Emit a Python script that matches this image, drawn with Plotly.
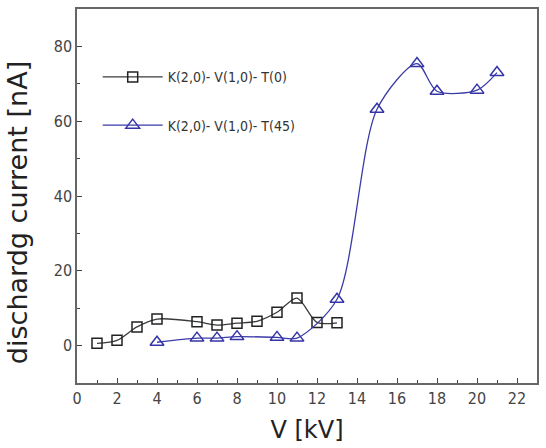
import plotly.graph_objects as go

# Data
x_t0 = [1, 2, 3, 4, 6, 7, 8, 9, 10, 11, 12, 13]
y_t0 = [0.6, 1.4, 5.0, 7.1, 6.4, 5.5, 6.0, 6.5, 8.9, 12.7, 6.2, 6.1]

x_t45 = [4, 6, 7, 8, 10, 11, 13, 15, 17, 18, 20, 21]
y_t45 = [0.9, 2.0, 2.0, 2.4, 2.2, 2.0, 12.4, 63.2, 75.4, 68.0, 68.3, 73.0]

name_t0 = "K(2,0)- V(1,0)- T(0)"
name_t45 = "K(2,0)- V(1,0)- T(45)"
y_title = "dischardg current [nA]"
x_title = "V [kV]"

fig = go.Figure()
fig.add_trace(go.Scatter(
    x=x_t0, y=y_t0, name=name_t0, legendgroup="a",
    mode="lines+markers",
    line=dict(color="#3a3a3a", width=1.3, shape="spline", smoothing=0.8),
    marker=dict(symbol="square-open", size=10, color="#222222", line=dict(width=1.5)),
))
fig.add_trace(go.Scatter(
    x=x_t45, y=y_t45, name=name_t45, legendgroup="b",
    mode="lines+markers",
    line=dict(color="#3b3ba8", width=1.3, shape="spline", smoothing=0.8),
    marker=dict(symbol="triangle-up-open", size=12, color="#3535a8", line=dict(width=1.5)),
))

narrow = "Liberation Sans Narrow, DejaVu Sans Condensed, Arial Narrow, sans-serif"
tickfont = dict(family=narrow, size=16, color="#444444")

fig.update_layout(
    width=546, height=448,
    margin=dict(l=77, r=7, t=7, b=65),
    paper_bgcolor="white", plot_bgcolor="white",
    showlegend=True,
    legend=dict(x=0.045, y=0.86, xanchor="left", yanchor="top",
                bgcolor="rgba(0,0,0,0)", traceorder="grouped", tracegroupgap=27,
                itemwidth=60,
                font=dict(family=narrow, size=14, color="#333333")),
    xaxis=dict(
        range=[0, 23], tickmode="linear", tick0=0, dtick=2,
        ticks="inside", ticklen=5, tickcolor="#444", tickwidth=1,
        minor=dict(dtick=1, ticks="inside", ticklen=3, tickcolor="#444"),
        showline=True, linecolor="#666", linewidth=1.5, mirror=True,
        showgrid=False, zeroline=False, tickfont=tickfont,
        title=dict(text=x_title, font=dict(family="DejaVu Sans, sans-serif",
                                            size=24, color="#222"), standoff=14),
    ),
    yaxis=dict(
        range=[-10, 90], tickmode="array", tickvals=[0, 20, 40, 60, 80],
        ticks="inside", ticklen=5, tickcolor="#444", tickwidth=1,
        minor=dict(dtick=10, tick0=0, ticks="inside", ticklen=3, tickcolor="#444"),
        showline=True, linecolor="#666", linewidth=1.5, mirror=True,
        showgrid=False, zeroline=False, tickfont=tickfont,
    ),
    annotations=[dict(
        text=y_title, textangle=-90, showarrow=False,
        xref="paper", yref="paper", x=-0.1277, y=0.4548,
        xanchor="center", yanchor="middle",
        font=dict(family="DejaVu Sans, sans-serif", size=27, color="#222"),
    )],
)

fig.write_html("out.html")
